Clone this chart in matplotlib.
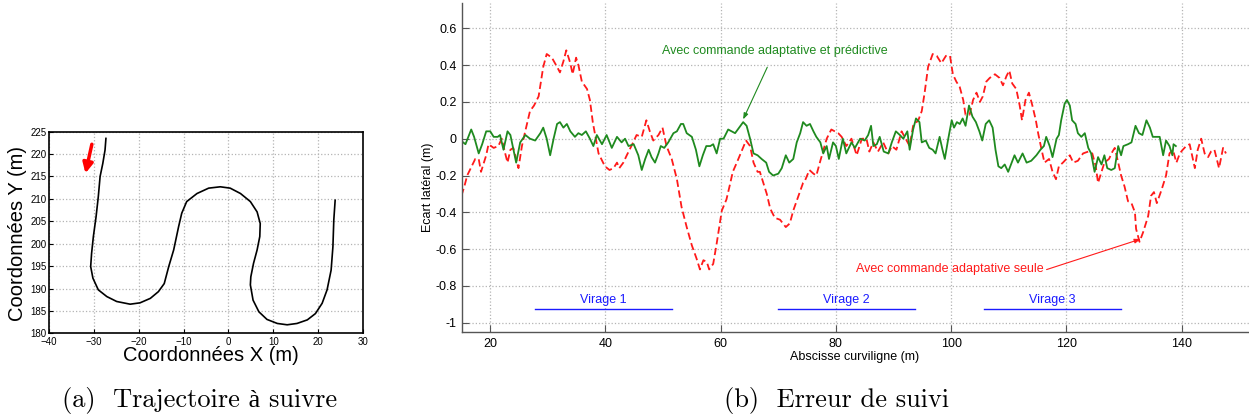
import matplotlib
matplotlib.use('Agg')
import matplotlib.pyplot as plt
import numpy as np

plt.rcParams['font.family'] = ['Liberation Sans', 'DejaVu Sans']

# trajectoire (a)
traj_x = [-27.3, -27.5, -28.0, -28.6, -29.0, -29.5, -30.1, -30.5, -30.7, -30.2, -29.0, -27.1,
          -24.9, -21.9, -19.7, -17.4, -15.6, -14.3, -13.3, -12.2, -11.1, -10.4, -9.3, -7.0,
          -4.4, -1.8, 0.4, 2.7, 4.9, 6.4, 7.1, 7.0, 6.4, 5.6, 5.0, 4.9, 5.5, 6.8, 8.6, 10.9,
          13.1, 15.3, 17.6, 19.4, 20.9, 22.0, 22.9, 23.3, 23.5, 23.8]
traj_y = [223.5, 220.9, 217.9, 215.0, 210.5, 206.0, 201.6, 197.8, 194.9, 192.3, 189.7, 188.2,
          187.1, 186.5, 186.8, 187.8, 189.3, 191.1, 194.9, 198.6, 203.8, 206.8, 209.4, 211.2,
          212.4, 212.7, 212.4, 211.2, 209.4, 207.1, 204.5, 201.6, 198.6, 195.6, 192.6, 190.8,
          187.4, 184.8, 183.1, 182.2, 181.9, 182.2, 183.0, 184.4, 186.7, 189.7, 194.1, 199.3,
          205.3, 209.7]

# erreur de suivi (b) : commande adaptative seule
s_adapt = [15.0, 15.5, 16.0, 17.4, 18.0, 18.4, 19.3, 19.7, 20.6, 21.4, 22.0, 22.6, 23.0, 23.5,
           24.0, 24.9, 25.5, 26.0, 26.9, 27.6, 28.4, 29.2, 29.8, 30.7, 31.6, 32.1, 32.7, 33.2,
           33.9, 34.3, 34.9, 35.3, 35.9, 36.8, 37.3, 37.8, 38.8, 39.9, 40.7, 41.4, 42.0, 42.4,
           43.1, 43.7, 44.5, 45.4, 46.3, 47.1, 47.7, 48.3, 49.2, 49.9, 50.6, 51.5, 52.4, 53.2,
           54.1, 55.0, 55.8, 56.4, 57.0, 57.6, 58.0, 58.7, 59.3, 60.2, 61.0, 61.6, 62.1, 62.8,
           63.6, 64.4, 65.1, 65.7, 66.4, 66.8, 67.4, 68.0, 68.6, 69.4, 70.3, 70.8, 71.3, 72.0,
           72.6, 73.5, 74.3, 74.6, 75.4, 76.1, 76.6, 77.3, 78.4, 79.2, 80.4, 81.0, 81.8, 82.7,
           83.6, 84.5, 85.3, 85.8, 86.5, 87.3, 88.2, 89.1, 89.7, 90.5, 91.4, 92.1, 92.8, 93.4,
           94.3, 94.9, 95.4, 96.0, 96.8, 97.5, 98.3, 99.1, 99.8, 100.3, 100.9, 101.5, 102.1,
           102.5, 103.2, 103.8, 104.4, 105.0, 105.5, 106.1, 106.7, 107.6, 108.4, 109.0, 109.6,
           110.1, 110.6, 111.3, 111.9, 112.3, 112.9, 113.5, 114.1, 114.7, 115.1, 115.7, 116.2,
           117.0, 117.6, 118.2, 118.7, 119.4, 120.0, 120.6, 121.2, 122.0, 122.9, 123.8, 124.5,
           125.1, 125.5, 126.1, 126.6, 127.4, 128.0, 128.4, 129.0, 129.5, 130.1, 130.7, 131.3,
           131.9, 132.1, 132.7, 133.3, 134.2, 134.7, 135.2, 135.7, 136.5, 137.3, 137.9, 138.5,
           139.1, 139.7, 140.2, 140.8, 141.4, 142.3, 142.8, 143.4, 144.0, 144.6, 145.1, 145.7,
           146.5, 147.2, 147.7]
e_adapt = [-0.31, -0.26, -0.20, -0.11, -0.11, -0.18, -0.09, -0.03, -0.05, -0.04, 0.0, -0.08,
           -0.13, -0.06, -0.05, -0.16, -0.04, 0.03, 0.15, 0.18, 0.23, 0.39, 0.46, 0.44, 0.39,
           0.36, 0.42, 0.48, 0.41, 0.35, 0.44, 0.40, 0.31, 0.27, 0.21, 0.09, -0.08, -0.15,
           -0.17, -0.16, -0.13, -0.16, -0.13, -0.09, -0.04, 0.02, 0.01, 0.10, 0.04, -0.01,
           0.02, 0.06, -0.04, -0.11, -0.22, -0.37, -0.48, -0.58, -0.65, -0.71, -0.66, -0.67,
           -0.71, -0.68, -0.57, -0.39, -0.33, -0.25, -0.18, -0.13, -0.07, -0.01, -0.04, -0.13,
           -0.18, -0.18, -0.24, -0.30, -0.38, -0.43, -0.44, -0.46, -0.48, -0.46, -0.39, -0.31,
           -0.24, -0.23, -0.17, -0.19, -0.20, -0.12, 0.0, 0.05, 0.03, 0.01, -0.04, 0.0, -0.09,
           0.0, 0.0, -0.07, -0.02, -0.07, -0.02, -0.08, -0.04, -0.06, 0.04, 0.0, -0.04, 0.07,
           0.10, 0.15, 0.25, 0.39, 0.46, 0.45, 0.41, 0.45, 0.45, 0.35, 0.31, 0.28, 0.21, 0.13,
           0.13, 0.21, 0.25, 0.20, 0.23, 0.31, 0.33, 0.35, 0.33, 0.29, 0.34, 0.37, 0.30, 0.27,
           0.18, 0.10, 0.21, 0.25, 0.18, 0.10, 0.03, -0.06, -0.13, -0.11, -0.18, -0.22, -0.15,
           -0.13, -0.11, -0.09, -0.13, -0.12, -0.08, -0.07, -0.08, -0.15, -0.24, -0.18, -0.13,
           -0.11, -0.07, -0.05, -0.13, -0.20, -0.26, -0.34, -0.35, -0.40, -0.49, -0.56, -0.51,
           -0.42, -0.31, -0.29, -0.35, -0.28, -0.20, -0.08, -0.06, -0.13, -0.08, -0.06, -0.04,
           -0.03, -0.16, -0.06, 0.0, -0.08, -0.10, -0.07, -0.06, -0.16, -0.05, -0.08]

# commande adaptative et predictive
s_pred = [15.3, 15.7, 16.2, 16.7, 17.2, 18.0, 18.6, 19.3, 20.0, 20.6, 21.3, 21.7, 22.3, 23.0,
          23.5, 23.9, 24.5, 25.2, 26.1, 26.9, 27.8, 28.7, 29.2, 29.8, 30.4, 31.0, 31.6, 32.1,
          32.7, 33.3, 33.9, 34.7, 35.3, 35.9, 36.6, 37.3, 37.9, 38.5, 39.4, 40.2, 41.1, 42.0,
          42.8, 43.4, 44.0, 44.9, 45.7, 46.3, 46.9, 47.5, 48.0, 48.6, 49.2, 49.6, 50.2, 50.9,
          51.8, 52.4, 53.1, 53.5, 54.1, 55.0, 55.7, 56.3, 56.9, 57.5, 58.2, 58.7, 59.3, 59.9,
          60.5, 61.3, 61.9, 62.5, 63.2, 63.9, 64.5, 65.1, 65.7, 66.4, 67.1, 67.9, 68.4, 69.1,
          70.0, 70.6, 71.3, 71.9, 72.6, 73.2, 73.8, 74.3, 74.9, 75.5, 76.1, 76.6, 77.3, 77.8,
          78.4, 78.8, 79.5, 80.0, 80.5, 81.2, 81.8, 82.7, 83.3, 84.2, 85.0, 85.6, 86.1, 86.5,
          87.1, 87.6, 88.3, 89.1, 89.7, 90.4, 91.1, 91.7, 92.4, 92.8, 93.4, 93.9, 94.5, 94.9,
          95.6, 96.2, 96.8, 97.3, 98.0, 98.5, 98.9, 99.5, 100.1, 100.5, 101.0, 101.5, 102.0,
          102.5, 103.1, 103.7, 104.3, 104.9, 105.4, 106.0, 106.6, 107.2, 107.7, 108.2, 108.7,
          109.3, 109.9, 110.5, 111.0, 111.6, 112.4, 113.1, 113.9, 114.8, 115.5, 116.1, 116.5,
          117.1, 117.6, 118.3, 118.7, 119.1, 119.7, 120.1, 120.6, 121.0, 121.6, 122.0, 122.6,
          123.2, 123.8, 124.3, 124.9, 125.5, 126.1, 126.6, 127.1, 127.8, 128.4, 129.0, 129.5,
          129.9, 130.7, 131.3, 132.0, 132.6, 133.2, 133.9, 134.5, 135.0, 135.7, 136.2, 136.8,
          137.3, 137.9, 138.4, 138.6, 139.0]
e_pred = [-0.02, -0.03, 0.01, 0.05, 0.01, -0.08, -0.03, 0.04, 0.04, 0.01, 0.01, 0.02, -0.06,
          0.04, 0.02, -0.04, -0.13, -0.02, 0.02, 0.0, -0.01, 0.03, 0.06, 0.0, -0.09, 0.0, 0.08,
          0.09, 0.06, 0.08, 0.04, 0.01, 0.03, 0.02, 0.04, 0.0, -0.04, 0.02, -0.03, 0.02, -0.05,
          0.01, -0.02, 0.0, -0.04, -0.03, -0.09, -0.17, -0.11, -0.06, -0.10, -0.13, -0.08,
          -0.04, -0.05, -0.02, 0.03, 0.04, 0.08, 0.08, 0.03, 0.01, -0.06, -0.15, -0.09, -0.04,
          -0.04, -0.03, -0.08, 0.0, 0.0, 0.05, 0.04, 0.03, 0.06, 0.09, 0.07, 0.0, -0.08, -0.09,
          -0.11, -0.13, -0.18, -0.20, -0.19, -0.16, -0.09, -0.13, -0.11, -0.02, 0.03, 0.09,
          0.07, 0.08, 0.04, 0.01, -0.02, -0.08, -0.04, -0.11, -0.02, -0.04, -0.11, 0.0, -0.08,
          -0.02, -0.05, 0.0, -0.01, 0.02, 0.07, -0.04, -0.03, 0.01, -0.07, -0.08, -0.02, 0.04,
          0.02, 0.0, 0.04, -0.06, 0.05, 0.11, 0.09, -0.02, -0.01, -0.05, -0.06, -0.08, 0.01,
          -0.06, -0.11, 0.0, 0.10, 0.06, 0.09, 0.08, 0.11, 0.07, 0.18, 0.12, 0.09, 0.04, -0.01,
          0.08, 0.10, 0.06, -0.06, -0.15, -0.16, -0.14, -0.18, -0.13, -0.09, -0.13, -0.08,
          -0.13, -0.12, -0.09, -0.06, -0.04, 0.01, -0.04, -0.10, 0.0, 0.02, 0.10, 0.19, 0.21,
          0.18, 0.10, 0.08, 0.03, 0.01, 0.03, -0.05, -0.08, -0.18, -0.10, -0.14, -0.09, -0.16,
          -0.17, -0.16, -0.04, -0.09, -0.04, -0.03, -0.02, 0.07, 0.03, 0.02, 0.10, 0.06, 0.01,
          0.01, 0.01, -0.09, -0.01, -0.04, -0.09, -0.03, -0.04]

virages = ['Virage 1', 'Virage 2', 'Virage 3']
virage_debut = [27.8, 70.0, 105.7]
virage_fin = [51.5, 93.7, 129.5]
virage_y = -0.925

green = '#1f8a1f'
red = '#ff1a1a'
blue = '#1a1aff'
grid_kw = dict(color='#b4b4b4', linestyle=':', linewidth=0.9)

fig = plt.figure(figsize=(12.49, 4.17), dpi=100)

# --- (a) trajectoire
ax1 = fig.add_axes([0.0392, 0.2007, 0.2514, 0.4835])
ax1.plot(traj_x, traj_y, color='black', linewidth=1.2)
ax1.annotate('', xy=(-32.0, 215.1), xytext=(-30.3, 222.8),
             arrowprops=dict(arrowstyle='-|>,head_length=0.6,head_width=0.3', color='red', lw=2.5))
ax1.set_xlim(-40, 30)
ax1.set_ylim(180, 225)
ax1.set_xticks(np.arange(-40, 31, 10))
ax1.set_yticks(np.arange(180, 226, 5))
ax1.grid(True, **grid_kw)
ax1.tick_params(direction='in', labelsize=7, length=3, pad=1.5)
ax1.tick_params(axis='x', pad=2.5)
for sp in ax1.spines.values():
    sp.set_linewidth(1.2)
ax1.set_xlabel('Coordonnées X (m)', fontsize=14.5)
ax1.set_ylabel('Coordonnées Y (m)', fontsize=14.5)
ax1.xaxis.set_label_coords(0.516, -0.108)
ax1.yaxis.set_label_coords(-0.099, 0.497)
ax1.xaxis.label.set_va('center')
ax1.yaxis.label.set_va('center')

# --- (b) erreur de suivi
ax2 = fig.add_axes([0.3699, 0.2038, 0.6301, 0.789])
ax2.plot(s_adapt, e_adapt, color=red, linestyle='--', linewidth=1.3, dashes=(4, 2))
ax2.plot(s_pred, e_pred, color=green, linewidth=1.3)
for nom, d, f in zip(virages, virage_debut, virage_fin):
    ax2.plot([d, f], [virage_y, virage_y], color=blue, linewidth=1.0)
    ax2.text((d + f) / 2, virage_y + 0.015, nom, color=blue, fontsize=9, ha='center', va='bottom')

ax2.annotate('Avec commande adaptative et prédictive', xy=(63.9, 0.105), xytext=(69.4, 0.477),
             color=green, fontsize=9, ha='center', va='center',
             arrowprops=dict(arrowstyle='-|>,head_length=0.4,head_width=0.15', color=green, lw=0.8,
                             shrinkA=6, shrinkB=0))
ax2.annotate('Avec commande adaptative seule', xy=(132.9, -0.545), xytext=(99.8, -0.706),
             color=red, fontsize=9, ha='center', va='center',
             arrowprops=dict(arrowstyle='-|>,head_length=0.4,head_width=0.15', color=red, lw=0.8,
                             relpos=(1.0, 0.35), shrinkA=0, shrinkB=0))

ax2.set_xlim(15.1, 151.7)
ax2.set_ylim(-1.05, 0.737)
ax2.set_xticks(np.arange(20, 141, 20))
ax2.set_yticks(np.arange(-1.0, 0.61, 0.2))
ax2.set_yticklabels(['-1', '-0.8', '-0.6', '-0.4', '-0.2', '0', '0.2', '0.4', '0.6'])
ax2.grid(True, **grid_kw)
ax2.tick_params(direction='in', labelsize=9, length=5, color='#555555', pad=4)
ax2.spines['top'].set_visible(False)
ax2.spines['right'].set_visible(False)
for sp in ['left', 'bottom']:
    ax2.spines[sp].set_color('#555555')
    ax2.spines[sp].set_linewidth(1.0)
ax2.set_xlabel('Abscisse curviligne (m)', fontsize=9)
ax2.set_ylabel('Ecart latéral (m)', fontsize=9)
ax2.xaxis.set_label_coords(0.4994, -0.076)
ax2.yaxis.set_label_coords(-0.043, 0.44)
ax2.xaxis.label.set_va('center')
ax2.yaxis.label.set_va('center')

cap_font = ['cmr10', 'Liberation Serif', 'DejaVu Serif']
fig.text(0.160, 0.039, '(a)  Trajectoire à suivre', fontsize=19, family=cap_font,
         ha='center', va='center')
fig.text(0.670, 0.039, '(b)  Erreur de suivi', fontsize=19, family=cap_font,
         ha='center', va='center')

plt.savefig('out.png', dpi=100)
